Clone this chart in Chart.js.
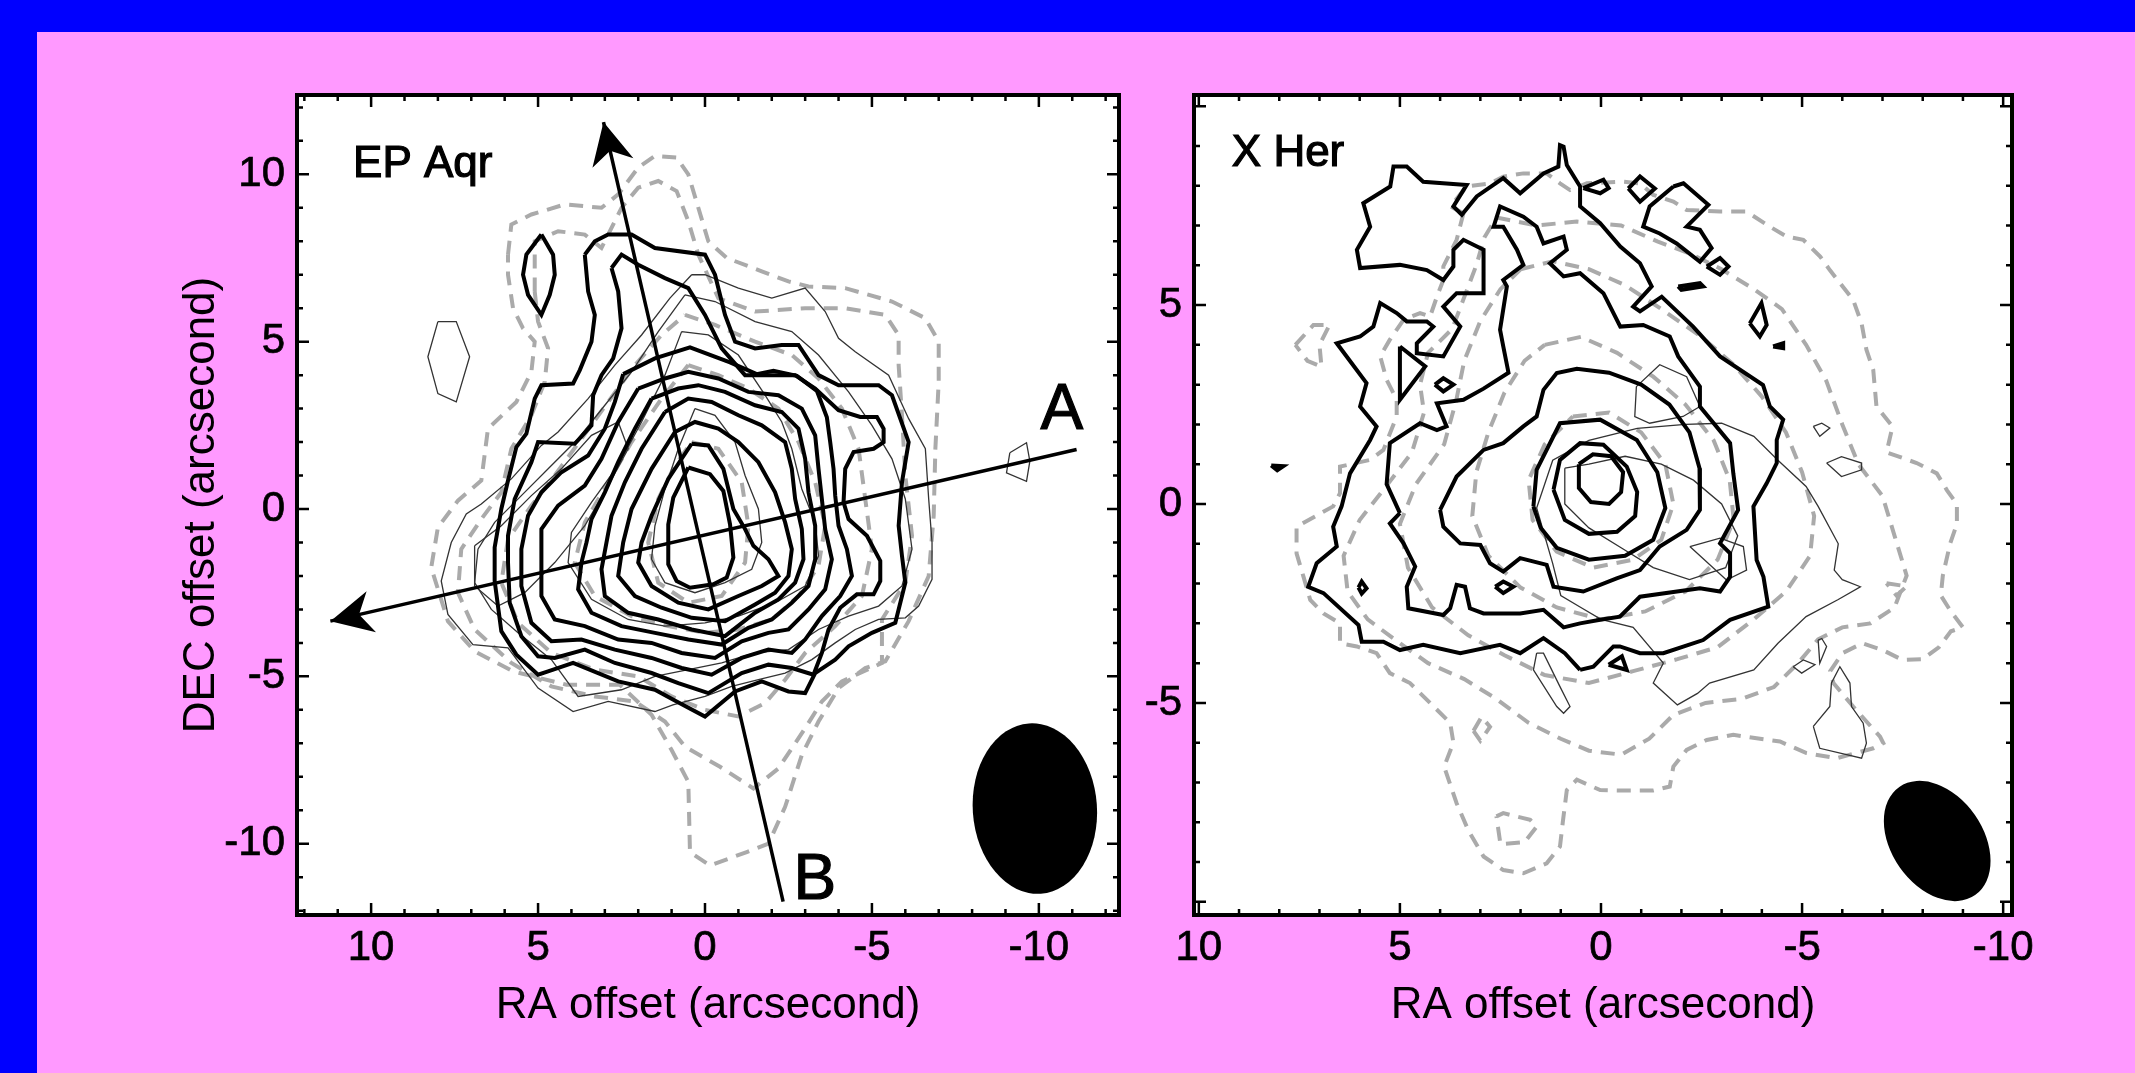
<!DOCTYPE html>
<html>
<head>
<meta charset="utf-8">
<script src="https://cdn.jsdelivr.net/npm/chart.js@4.4.0/dist/chart.umd.min.js"></script>
<style>
  html, body { margin: 0; padding: 0; }
  body { width: 2135px; height: 1073px; background: #ff99ff; position: relative; overflow: hidden; }
  #topbar { position: absolute; left: 0; top: 0; width: 2135px; height: 32px; background: #0000ff; }
  #leftbar { position: absolute; left: 0; top: 0; width: 37px; height: 1073px; background: #0000ff; }
  canvas { position: absolute; top: 0; }
  #epAqr { left: 0; }
  #xHer { left: 1120px; }
</style>
</head>
<body>
<div id="topbar"></div>
<div id="leftbar"></div>
<canvas id="epAqr" width="1165" height="1073"></canvas>
<canvas id="xHer" width="1015" height="1073"></canvas>
<script>
// tick labels (arcsec)
const epAqrXTicks = [-10, -5, 0, 5, 10];
const epAqrYTicks = [-10, -5, 0, 5, 10];
const xHerXTicks = [-10, -5, 0, 5, 10];
const xHerYTicks = [-5, 0, 5];

// ---- EP Aqr contours, [RA offset, DEC offset] in arcsec ----
const epAqrThick = [
  [[3.6,7.6],[3.3,8.0],[2.9,8.2],[2.2,8.2],[1.5,7.8],[0.0,7.6],[-0.3,7.0],[-0.6,5.8],[-0.9,5.0],[-1.5,4.8],[-2.3,4.9],[-2.8,4.9],[-3.4,4.0],[-4.0,3.7],[-5.2,3.7],[-5.6,3.4],[-6.1,2.0],[-5.9,0.8],[-5.8,-0.5],[-5.9,-1.4],[-6.0,-2.2],[-5.7,-3.4],[-5.0,-3.7],[-4.3,-4.1],[-3.9,-4.5],[-3.3,-4.9],[-3.0,-5.5],[-2.5,-5.45],[-1.7,-5.15],[-0.9,-5.45],[0.0,-6.2],[0.85,-5.75],[1.5,-5.4],[2.6,-5.15],[3.95,-4.6],[4.7,-4.85],[5.0,-4.95],[5.65,-4.35],[6.1,-3.65],[6.3,-2.15],[6.3,-1.15],[6.1,0.0],[5.9,0.85],[5.65,1.85],[5.35,2.25],[5.1,3.3],[4.9,3.7],[3.95,3.75],[3.75,4.15],[3.4,5.0],[3.3,5.8],[3.5,6.5],[3.6,7.6]],
  [[2.8,7.2],[2.5,7.6],[2.0,7.3],[1.2,6.9],[0.5,6.6],[0.0,5.8],[-0.5,4.8],[-1.2,4.0],[-2.0,4.0],[-2.7,4.0],[-3.3,3.6],[-4.0,2.95],[-4.65,2.75],[-5.15,2.75],[-5.35,2.4],[-5.35,2.0],[-5.05,1.8],[-4.45,1.7],[-4.2,1.2],[-4.15,0.2],[-4.3,-0.3],[-4.85,-0.8],[-5.25,-1.55],[-5.25,-2.15],[-5.05,-2.55],[-4.55,-2.55],[-4.05,-2.95],[-3.7,-3.6],[-3.5,-4.3],[-3.25,-4.95],[-2.6,-4.75],[-1.9,-4.65],[-1.1,-4.9],[-0.1,-5.5],[0.8,-5.2],[1.6,-4.9],[2.7,-4.6],[3.6,-4.2],[4.5,-4.45],[5.0,-4.4],[5.5,-3.8],[5.85,-2.8],[5.9,-1.6],[5.9,-0.8],[5.7,0.3],[5.2,1.4],[5.0,2.0],[3.9,1.95],[3.4,2.5],[3.35,3.4],[3.1,4.0],[2.75,4.5],[2.5,5.4],[2.6,6.5],[2.8,7.2]],
  [[2.45,4.03],[1.5,4.5],[0.45,4.83],[-0.75,4.38],[-1.55,4.03],[-2.05,4.13],[-2.75,3.98],[-3.35,3.53],[-3.65,2.74],[-3.75,2.0],[-3.85,1.2],[-3.9,0.4],[-4.0,-0.5],[-4.25,-1.2],[-4.4,-2.0],[-4.05,-2.6],[-3.5,-3.2],[-3.0,-3.9],[-2.6,-4.3],[-1.9,-4.2],[-1.1,-4.45],[-0.2,-4.95],[0.7,-4.75],[1.6,-4.45],[2.7,-4.2],[3.7,-3.9],[4.6,-3.95],[5.2,-3.4],[5.5,-2.3],[5.5,-1.2],[5.3,-0.2],[4.9,0.5],[4.3,1.1],[3.5,1.6],[3.0,2.4],[2.7,3.2],[2.45,4.03]],
  [[2.0,3.6],[1.2,3.9],[0.5,4.1],[-0.4,3.9],[-1.3,3.5],[-2.2,3.4],[-2.9,3.0],[-3.3,2.2],[-3.4,1.2],[-3.5,0.3],[-3.6,-0.6],[-3.8,-1.5],[-3.6,-2.4],[-3.1,-3.0],[-2.5,-3.6],[-1.9,-3.7],[-1.1,-3.95],[-0.3,-4.45],[0.7,-4.3],[1.6,-4.0],[2.6,-3.9],[3.6,-3.5],[4.5,-3.3],[4.9,-2.6],[4.9,-1.5],[4.9,-0.6],[4.4,0.1],[3.6,0.7],[3.1,1.5],[2.6,2.6],[2.0,3.6]],
  [[1.6,3.3],[0.8,3.6],[0.2,3.7],[-0.6,3.5],[-1.5,3.1],[-2.3,2.9],[-2.8,2.4],[-3.0,1.5],[-3.1,0.5],[-3.3,-0.5],[-3.3,-1.5],[-3.1,-2.3],[-2.6,-2.8],[-2.0,-3.3],[-1.3,-3.55],[-0.5,-4.05],[0.5,-3.9],[1.5,-3.7],[2.5,-3.5],[3.4,-3.1],[3.8,-2.4],[3.7,-1.6],[3.55,-1.0],[3.4,-0.3],[3.0,0.5],[2.6,1.4],[2.1,2.4],[1.6,3.3]],
  [[1.2,2.9],[0.5,3.3],[-0.2,3.2],[-1.0,2.8],[-1.7,2.5],[-2.4,2.0],[-2.6,1.2],[-2.7,0.3],[-2.9,-0.6],[-2.95,-1.5],[-2.7,-2.2],[-2.2,-2.7],[-1.5,-3.1],[-0.6,-3.8],[0.4,-3.6],[1.4,-3.3],[2.3,-3.1],[3.0,-2.6],[3.1,-1.8],[2.95,-1.0],[2.8,-0.2],[2.4,0.8],[1.9,1.8],[1.2,2.9]],
  [[0.9,2.3],[0.3,2.6],[-0.4,2.4],[-1.0,2.0],[-1.6,1.4],[-2.1,0.5],[-2.4,-0.4],[-2.6,-1.2],[-2.5,-2.0],[-2.1,-2.5],[-1.5,-2.85],[-0.6,-3.35],[0.4,-3.25],[1.3,-2.95],[2.1,-2.6],[2.6,-2.0],[2.45,-1.0],[2.2,0.0],[1.6,1.2],[0.9,2.3]],
  [[0.4,1.95],[-0.1,1.9],[-0.55,1.2],[-0.85,0.0],[-1.2,-0.6],[-1.45,-1.1],[-1.9,-1.5],[-2.2,-2.0],[-1.7,-2.3],[-1.0,-2.6],[-0.1,-3.0],[0.8,-2.8],[1.6,-2.3],[2.0,-1.6],[1.9,-1.0],[1.6,-0.2],[1.1,0.9],[0.4,1.95]],
  [[0.5,1.24],[-0.15,1.04],[-0.55,0.54],[-0.75,-0.46],[-0.85,-1.45],[-0.65,-2.05],[-0.25,-2.25],[0.45,-2.35],[0.85,-2.15],[1.1,-1.65],[1.1,-0.46],[0.95,0.34],[0.5,1.24]],
  [[4.9,8.2],[4.55,7.6],[4.5,7.0],[4.65,6.4],[4.9,5.8],[5.3,6.4],[5.45,7.0],[5.35,7.6],[4.9,8.2]]
];

const epAqrThin = [
  [[0.4,7.0],[0.0,7.0],[-1.0,6.6],[-2.0,6.3],[-3.0,6.6],[-3.6,5.9],[-4.0,5.1],[-4.5,4.7],[-5.5,4.0],[-6.1,2.7],[-6.6,1.8],[-6.7,0.3],[-6.8,-1.0],[-6.8,-2.1],[-6.4,-2.9],[-6.0,-3.25],[-5.2,-3.3],[-4.5,-3.6],[-3.9,-4.0],[-3.2,-4.5],[-2.4,-4.9],[-1.6,-5.1],[-0.8,-5.3],[0.0,-5.6],[0.96,-5.85],[1.5,-6.05],[2.9,-5.75],[3.95,-6.05],[5.0,-5.35],[5.9,-4.15],[6.95,-4.05],[7.7,-3.15],[7.9,-2.15],[7.6,-1.0],[7.15,-0.15],[6.7,0.15],[5.8,0.9],[4.9,1.9],[4.4,2.3],[3.5,3.3],[2.7,4.3],[1.9,5.2],[1.05,6.3],[0.4,7.0]],
  [[0.6,6.4],[-0.3,6.2],[-1.5,5.6],[-2.6,5.3],[-3.4,4.6],[-4.3,3.5],[-5.0,2.5],[-5.6,1.5],[-6.0,0.3],[-6.2,-1.2],[-5.9,-2.3],[-5.2,-2.9],[-4.3,-3.2],[-3.4,-3.6],[-2.5,-4.2],[-1.5,-4.3],[-0.5,-4.6],[0.5,-4.8],[1.5,-5.0],[2.5,-5.4],[3.8,-5.6],[4.6,-4.5],[5.6,-3.7],[6.4,-3.0],[6.9,-2.2],[6.8,-1.2],[6.3,-0.4],[5.5,0.4],[4.6,1.3],[3.8,2.1],[3.0,3.1],[2.2,4.1],[1.4,5.3],[0.6,6.4]],
  [[0.7,5.3],[-0.1,5.2],[-1.0,4.6],[-1.8,3.4],[-2.3,2.6],[-2.6,1.8],[-2.9,0.6],[-3.3,-0.4],[-3.4,-1.4],[-3.0,-2.3],[-2.1,-2.8],[-1.0,-3.2],[0.0,-3.4],[1.2,-3.5],[2.3,-3.3],[3.4,-2.7],[4.1,-1.6],[4.0,-0.7],[3.4,0.2],[2.6,1.3],[1.9,2.6],[1.2,4.0],[0.7,5.3]],
  [[0.3,3.0],[-0.3,2.8],[-0.9,2.0],[-1.2,1.0],[-1.6,0.0],[-1.7,-1.0],[-1.4,-1.8],[-0.6,-2.2],[0.3,-2.5],[1.2,-2.2],[1.6,-1.5],[1.5,-0.5],[1.2,0.6],[0.8,1.8],[0.3,3.0]],
  [[6.9,-1.1],[6.1,-0.5],[5.2,0.4],[4.3,1.2],[3.4,2.2],[2.6,2.6],[2.3,1.8],[2.9,0.7],[3.6,-0.5],[4.5,-1.6],[5.4,-2.5],[6.2,-2.9],[6.9,-2.3],[6.9,-1.1]],
  [[8.0,5.6],[7.45,5.6],[7.05,4.55],[7.45,3.2],[8.0,3.45],[8.3,4.55],[8.0,5.6]],
  [[-9.13,1.68],[-9.63,1.98],[-9.73,1.43],[-9.63,0.83],[-9.03,1.08],[-9.13,1.68]]
];

const epAqrDashed = [
  [[5.9,7.6],[5.8,8.5],[5.2,8.8],[4.2,9.1],[3.1,9.0],[2.6,9.4],[2.0,10.2],[1.5,10.55],[0.85,10.5],[0.5,10.0],[0.2,9.0],[-0.1,8.0],[-0.65,7.5],[-1.7,7.1],[-2.5,6.8],[-3.1,6.65],[-4.2,6.6],[-5.6,6.2],[-6.6,5.7],[-7.0,5.0],[-7.0,3.8],[-6.9,1.8],[-6.85,-0.2],[-6.7,-2.0],[-6.1,-3.35],[-5.4,-4.55],[-4.8,-4.75],[-4.0,-5.35],[-3.4,-6.35],[-2.9,-7.35],[-2.4,-8.9],[-1.9,-10.0],[-1.25,-10.25],[-0.15,-10.65],[0.45,-10.25],[0.5,-8.15],[1.0,-7.2],[1.6,-6.15],[2.55,-5.25],[4.15,-5.25],[5.75,-4.85],[6.9,-4.25],[7.7,-3.35],[8.2,-1.75],[8.0,-0.55],[7.4,0.25],[6.7,0.85],[6.5,2.4],[5.65,3.2],[5.2,4.1],[5.1,5.0],[5.45,5.4],[5.75,6.0],[5.9,7.0],[5.9,7.6]],
  [[5.1,6.5],[5.1,8.0],[4.4,8.3],[3.6,8.2],[3.1,7.8],[2.5,9.0],[2.0,9.6],[1.4,9.8],[0.85,9.5],[0.5,8.6],[0.2,7.6],[-0.4,6.3],[-1.5,5.9],[-3.0,6.0],[-4.2,6.0],[-5.4,5.8],[-5.8,5.2],[-5.8,4.3],[-5.9,2.8],[-6.0,1.0],[-6.2,-0.8],[-6.0,-2.2],[-5.3,-3.3],[-5.3,-4.6],[-4.1,-5.15],[-3.5,-5.75],[-3.0,-6.55],[-2.2,-7.75],[-1.45,-8.35],[-0.45,-7.7],[0.6,-7.1],[1.2,-6.35],[2.1,-5.75],[3.3,-5.6],[4.6,-5.3],[5.8,-4.6],[6.9,-3.6],[7.4,-2.5],[7.3,-1.2],[6.7,-0.3],[6.1,0.5],[5.8,1.8],[5.2,2.8],[4.8,3.8],[4.7,4.8],[5.0,5.6],[5.1,6.5]],
  [[0.6,5.8],[-0.3,5.5],[-1.5,5.0],[-2.6,4.6],[-3.4,3.9],[-4.1,3.0],[-4.6,1.8],[-4.8,0.3],[-5.0,-1.2],[-4.7,-2.6],[-3.9,-3.5],[-3.0,-4.3],[-2.4,-5.1],[-1.8,-5.8],[-1.0,-6.2],[0.0,-6.0],[1.0,-5.6],[2.0,-5.0],[3.3,-4.8],[4.6,-4.3],[5.6,-3.4],[6.1,-2.2],[5.9,-0.9],[5.2,0.1],[4.5,1.0],[3.7,2.1],[2.9,3.2],[2.1,4.3],[1.3,5.2],[0.6,5.8]],
  [[0.5,4.3],[-0.4,4.0],[-1.3,3.6],[-2.2,3.0],[-2.8,2.0],[-3.3,0.8],[-3.6,-0.5],[-3.4,-1.7],[-2.8,-2.6],[-2.0,-3.3],[-1.0,-3.6],[0.0,-3.7],[1.1,-3.5],[2.2,-3.2],[3.3,-2.6],[3.9,-1.6],[3.6,-0.4],[2.9,0.8],[2.2,2.0],[1.3,3.3],[0.5,4.3]],
  [[0.4,2.0],[-0.4,1.8],[-1.1,0.8],[-1.3,-0.5],[-1.2,-1.6],[-0.5,-2.6],[0.5,-2.8],[1.4,-2.2],[1.7,-1.0],[1.4,0.3],[0.9,1.3],[0.4,2.0]]
];

// position-velocity cut directions, start -> arrow tip
const epAqrCuts = [
  [[-2.34,-11.73],[3.04,11.56]],
  [[-11.13,1.78],[11.22,-3.35]]
];

// ---- X Her contours ----
const xHerThick = [
  [[0.52,-4.17],[0.9,-3.75],[1.43,-3.37],[2.01,-3.75],[2.51,-3.54],[3.5,-3.75],[4.42,-3.54],[5.0,-3.67],[5.41,-3.46],[5.95,-3.46],[6.03,-3.04],[6.9,-2.24],[7.28,-2.08],[7.07,-1.49],[6.57,-1.07],[6.66,-0.57],[6.45,-0.06],[6.24,0.77],[5.74,1.61],[5.58,1.95],[5.99,2.45],[5.83,3.04],[6.57,4.04],[5.99,4.21],[5.66,4.46],[5.49,5.05],[5.08,4.8],[4.83,4.59],[4.33,4.59],[4.17,4.46],[4.58,4.04],[4.58,3.79],[3.92,3.71],[3.5,4.46],[3.92,4.96],[3.59,5.3],[2.92,5.3],[2.92,6.39],[3.42,6.64],[3.67,6.39],[3.67,5.97],[3.92,5.63],[4.33,5.88],[5.0,6.01],[5.99,5.93],[6.07,6.39],[5.74,6.97],[5.91,7.56],[5.24,7.98],[5.16,8.48],[4.83,8.48],[4.42,8.1],[3.34,8.02],[3.67,7.48],[3.46,7.27],[3.09,7.73],[2.43,8.19],[2.01,7.81],[1.43,8.31],[1.06,8.48],[1.02,9.02],[0.93,8.98],[0.85,8.52],[0.52,7.98],[0.52,7.48],[0.02,7.06],[-0.48,6.47],[-0.97,6.05],[-1.26,5.47],[-0.8,4.96],[-0.97,4.84],[-1.51,5.21],[-2.29,4.46],[-2.96,3.71],[-4.03,2.99],[-4.2,2.45],[-4.53,2.12],[-4.37,1.61],[-4.37,1.03],[-4.12,0.52],[-3.79,-0.06],[-3.87,-1.41],[-4.04,-1.83],[-4.16,-2.58],[-3.21,-2.91],[-2.54,-3.42],[-1.55,-3.75],[-0.97,-3.75],[-0.47,-3.58],[-0.31,-3.58],[0.19,-4.09],[0.52,-4.17]],
  [[5.0,-0.23],[5.33,0.5],[5.25,1.53],[4.5,2.03],[4.08,1.86],[3.84,1.95],[4.08,2.53],[3.42,2.62],[2.92,2.9],[2.3,3.3],[2.43,3.96],[2.51,4.38],[2.34,5.47],[2.43,5.63],[1.93,6.01],[2.09,6.39],[2.43,6.97],[2.67,6.97],[2.51,7.48],[1.93,7.22],[1.6,6.97],[1.43,6.55],[0.93,6.72],[0.85,6.39],[1.27,6.05],[0.93,5.72],[0.52,5.8],[-0.06,5.3],[-0.48,4.46],[-1.05,4.5],[-1.71,4.21],[-1.92,3.71],[-2.46,2.95],[-2.46,2.45],[-3.21,1.53],[-3.29,0.77],[-3.41,-0.15],[-2.96,-0.99],[-3.21,-1.24],[-3.21,-1.83],[-2.96,-2.2],[-2.46,-2.12],[-0.97,-2.33],[-0.47,-2.83],[0.02,-2.91],[0.52,-3.0],[0.93,-3.1],[1.43,-2.66],[2.01,-2.75],[2.92,-2.75],[3.26,-2.62],[3.38,-2.08],[3.59,-2.03],[3.75,-2.62],[3.92,-2.79],[4.79,-2.62],[4.83,-2.08],[4.62,-1.57],[4.91,-0.99],[5.25,-0.49],[5.0,-0.23]],
  [[4.0,-0.15],[3.59,0.69],[2.92,1.36],[2.43,1.53],[1.93,1.95],[1.6,2.2],[1.43,2.87],[1.1,3.29],[0.6,3.4],[-0.2,3.3],[-1.0,3.0],[-1.7,2.5],[-2.2,1.8],[-2.45,0.9],[-2.46,-0.15],[-2.13,-0.65],[-1.46,-1.07],[-0.97,-1.66],[-0.39,-1.87],[0.44,-2.2],[1.18,-2.08],[1.35,-1.53],[2.01,-1.36],[2.43,-1.7],[2.76,-1.49],[3.0,-1.03],[3.5,-0.99],[3.92,-0.57],[4.0,-0.15]],
  [[1.68,-0.06],[1.6,0.86],[1.02,2.03],[0.02,2.12],[-0.89,1.61],[-1.4,0.8],[-1.6,-0.1],[-1.3,-0.9],[-0.6,-1.3],[0.3,-1.4],[1.1,-1.1],[1.5,-0.6],[1.68,-0.06]],
  [[1.18,0.36],[1.02,1.11],[0.52,1.53],[-0.06,1.49],[-0.64,0.94],[-0.9,0.3],[-0.85,-0.3],[-0.4,-0.7],[0.3,-0.75],[0.9,-0.4],[1.18,0.36]],
  [[0.55,1.0],[0.2,1.25],[-0.25,1.2],[-0.55,0.8],[-0.5,0.3],[-0.2,0.0],[0.25,0.05],[0.55,0.4],[0.55,1.0]],
  [[-1.8,7.98],[-2.05,8.06],[-2.67,7.52],[-2.13,6.97],[-2.46,6.89],[-2.75,6.43],[-2.46,6.09],[-1.88,6.55],[-1.46,6.8],[-1.05,6.97],[-1.21,7.48],[-1.8,7.98]],
  [[-0.68,7.93],[-0.97,8.23],[-1.34,7.93],[-0.97,7.6],[-0.68,7.93]],
  [[-2.63,5.97],[-2.96,6.18],[-3.17,5.97],[-2.96,5.76],[-2.63,5.97]],
  [[-1.92,5.47],[-2.46,5.55],[-2.54,5.47],[-2.0,5.38],[-1.92,5.47]],
  [[-3.7,4.54],[-3.99,5.05],[-4.12,4.5],[-3.95,4.21],[-3.7,4.54]],
  [[0.44,7.94],[-0.06,8.15],[-0.19,7.94],[0.02,7.81],[0.44,7.94]],
  [[5.0,3.96],[4.37,3.46],[5.0,2.62],[5.0,3.96]],
  [[4.13,3.0],[3.92,3.16],[3.67,3.0],[3.92,2.83],[4.13,3.0]],
  [[6.03,-2.1],[5.95,-1.95],[5.83,-2.12],[5.95,-2.25],[6.03,-2.1]],
  [[2.63,-2.08],[2.43,-1.95],[2.18,-2.08],[2.43,-2.24],[2.63,-2.08]],
  [[-0.19,-4.04],[-0.52,-3.83],[-0.64,-4.17],[-0.19,-4.04]],
  [[8.2,0.97],[7.9,0.95],[8.05,0.85],[8.2,0.97]],
  [[-4.28,3.96],[-4.53,4.04],[-4.53,3.92],[-4.28,3.96]]
];

const xHerThin = [
  [[1.2,-1.5],[1.6,-0.1],[1.2,1.1],[0.3,1.6],[-0.9,1.9],[-2.1,2.0],[-3.0,2.03],[-3.8,1.7],[-4.4,1.1],[-5.1,0.44],[-5.4,-0.06],[-5.9,-1.0],[-5.8,-1.66],[-6.0,-1.9],[-6.45,-2.08],[-5.9,-2.4],[-5.1,-2.83],[-4.4,-3.5],[-3.8,-4.17],[-2.7,-4.5],[-2.4,-4.76],[-1.9,-5.05],[-1.3,-4.5],[-1.55,-4.0],[-0.8,-3.1],[0.0,-2.9],[0.5,-2.6],[1.0,-2.3],[1.2,-1.5]],
  [[-0.88,2.95],[-1.46,3.5],[-2.13,3.2],[-2.46,2.45],[-2.04,2.2],[-1.21,2.03],[-0.84,2.2],[-0.88,2.95]],
  [[0.9,0.9],[0.3,1.0],[-0.6,1.2],[-1.5,1.0],[-2.3,0.6],[-3.0,0.0],[-3.4,-0.8],[-3.1,-1.6],[-2.2,-1.9],[-1.3,-1.6],[-0.5,-1.1],[0.3,-0.6],[0.9,0.0],[0.9,0.9]],
  [[-2.21,-1.07],[-2.96,-0.86],[-3.54,-1.07],[-3.62,-1.66],[-3.12,-1.91],[-2.21,-1.07]],
  [[-5.28,-5.59],[-5.69,-5.09],[-5.73,-4.5],[-5.94,-4.09],[-6.19,-4.5],[-6.23,-5.09],[-6.52,-5.51],[-6.6,-6.01],[-6.48,-6.39],[-5.44,-6.14],[-5.28,-5.59]],
  [[1.6,-3.75],[1.68,-4.17],[1.1,-5.09],[0.93,-5.26],[0.77,-5.09],[1.02,-4.59],[1.43,-3.75],[1.6,-3.75]],
  [[-5.61,1.03],[-5.98,1.19],[-6.48,1.03],[-6.48,0.86],[-5.98,0.69],[-5.61,1.03]],
  [[-5.28,1.95],[-5.49,2.03],[-5.69,1.91],[-5.44,1.7],[-5.28,1.95]],
  [[-5.4,-3.42],[-5.49,-3.38],[-5.61,-3.58],[-5.44,-4.0],[-5.4,-3.42]],
  [[-4.78,-4.09],[-5.03,-3.92],[-5.32,-4.04],[-4.99,-4.25],[-4.78,-4.09]]
];

const xHerDashed = [
  [[3.42,7.31],[3.75,7.48],[3.34,7.98],[2.76,8.06],[2.43,8.23],[1.93,8.31],[1.35,8.31],[1.02,8.06],[0.77,7.89],[0.35,8.06],[-0.56,8.1],[-0.97,8.06],[-1.3,7.77],[-1.8,7.6],[-2.13,7.39],[-2.96,7.35],[-3.62,7.35],[-4.2,6.97],[-4.62,6.72],[-5.03,6.64],[-5.45,6.22],[-5.69,5.88],[-6.27,5.13],[-6.48,4.54],[-6.6,3.88],[-6.77,3.37],[-6.85,2.45],[-7.25,1.95],[-7.1,1.3],[-7.85,1.03],[-8.35,0.77],[-8.6,0.35],[-8.85,0.0],[-8.85,-0.5],[-8.68,-1.0],[-8.5,-1.8],[-8.45,-2.3],[-8.7,-2.7],[-9.0,-3.1],[-8.7,-3.2],[-8.4,-3.6],[-8.0,-3.9],[-7.5,-3.92],[-7.0,-3.67],[-6.5,-3.5],[-6.0,-3.75],[-5.7,-4.2],[-5.78,-4.5],[-6.27,-5.09],[-6.94,-5.85],[-7.02,-6.01],[-6.77,-6.14],[-5.86,-6.39],[-5.11,-6.26],[-4.45,-5.97],[-3.87,-5.89],[-3.29,-5.8],[-2.63,-5.93],[-2.13,-6.18],[-1.8,-6.6],[-1.71,-7.1],[-1.3,-7.2],[-0.47,-7.2],[0.02,-7.19],[0.6,-6.93],[0.85,-7.19],[0.95,-8.0],[1.02,-8.61],[1.35,-9.03],[1.93,-9.28],[2.43,-9.2],[2.92,-8.86],[3.3,-8.2],[3.59,-7.52],[3.9,-6.6],[3.67,-6.0],[3.75,-5.5],[4.25,-5.0],[4.75,-4.5],[5.25,-4.25],[5.58,-3.75],[6.07,-3.58],[6.49,-3.5],[6.49,-3.0],[6.9,-2.75],[7.23,-2.41],[7.4,-1.82],[7.57,-1.24],[7.57,-0.57],[6.66,-0.06],[6.49,0.27],[6.49,0.94],[5.74,1.11],[5.41,1.36],[5.08,2.2],[5.08,2.62],[5.33,3.12],[5.49,3.71],[5.25,4.13],[4.91,4.63],[4.5,4.8],[4.25,4.71],[4.08,5.21],[3.92,5.63],[3.92,5.97],[3.59,6.64],[3.42,7.31]],
  [[2.6,7.2],[1.6,7.0],[0.6,7.1],[-0.5,7.0],[-1.4,6.6],[-2.2,6.3],[-3.0,5.9],[-3.8,5.4],[-4.5,4.9],[-5.1,4.0],[-5.6,3.1],[-6.0,2.0],[-6.4,1.0],[-7.0,0.2],[-7.3,-0.8],[-7.6,-1.8],[-7.3,-2.6],[-6.7,-3.0],[-6.0,-3.1],[-5.4,-3.4],[-4.9,-4.0],[-4.3,-4.6],[-3.5,-4.9],[-2.6,-5.0],[-1.8,-5.3],[-1.2,-5.9],[-0.5,-6.3],[0.3,-6.2],[1.0,-5.9],[1.8,-5.5],[2.6,-4.9],[3.4,-4.4],[4.3,-4.0],[5.0,-3.5],[5.8,-2.9],[6.3,-2.2],[6.4,-1.3],[6.0,-0.4],[5.3,0.5],[4.7,1.3],[4.4,2.3],[4.5,3.0],[4.3,3.8],[3.7,4.4],[3.4,5.2],[3.1,6.0],[2.9,6.7],[2.6,7.2]],
  [[2.0,5.9],[1.2,6.1],[0.3,5.9],[-0.6,5.5],[-1.5,4.9],[-2.5,4.2],[-3.3,3.5],[-4.0,2.7],[-4.6,1.8],[-5.0,0.8],[-5.3,-0.3],[-5.2,-1.3],[-4.6,-2.2],[-3.8,-2.9],[-2.9,-3.6],[-1.9,-3.9],[-0.8,-4.2],[0.3,-4.5],[1.4,-4.3],[2.4,-3.8],[3.3,-3.3],[4.2,-2.6],[4.8,-1.6],[5.0,-0.5],[4.6,0.5],[3.9,1.5],[3.6,2.6],[3.4,3.6],[3.0,4.6],[2.5,5.4],[2.0,5.9]],
  [[1.4,4.0],[0.5,4.2],[-0.4,3.8],[-1.3,3.2],[-2.1,2.5],[-2.8,1.6],[-3.2,0.6],[-3.3,-0.4],[-2.9,-1.4],[-2.1,-2.2],[-1.1,-2.7],[0.0,-2.9],[1.1,-2.6],[2.0,-2.1],[2.8,-1.3],[3.2,-0.3],[3.1,0.8],[2.8,1.8],[2.4,2.8],[1.9,3.6],[1.4,4.0]],
  [[0.7,2.2],[-0.2,2.3],[-1.0,1.8],[-1.6,1.0],[-1.8,0.0],[-1.5,-0.9],[-0.8,-1.4],[0.2,-1.6],[1.1,-1.2],[1.7,-0.4],[1.8,0.6],[1.4,1.5],[0.7,2.2]],
  [[7.6,4.0],[7.15,4.5],[6.75,4.5],[7.0,4.0],[6.95,3.45],[7.3,3.6],[7.6,4.0]],
  [[3.17,-5.7],[2.97,-5.35],[2.76,-5.6],[3.0,-5.95],[3.17,-5.7]],
  [[2.6,-7.85],[2.43,-7.77],[1.76,-7.94],[1.6,-8.11],[1.9,-8.5],[2.5,-8.55],[2.6,-7.85]],
  [[-7.1,-1.99],[-7.6,-2.07],[-7.35,-2.3],[-7.1,-1.99]]
];

const FONT = '"Liberation Sans", Arial, Helvetica, sans-serif';

const thickStyle = { showLine: true, pointRadius: 0, borderColor: '#000', borderWidth: 4, order: 1 };
const thinStyle = { showLine: true, pointRadius: 0, borderColor: '#333', borderWidth: 1.3, order: 2 };
const dashStyle = { showLine: true, pointRadius: 0, borderColor: '#aaaaaa', borderWidth: 4, borderDash: [14, 9], order: 3 };
const cutStyle = { showLine: true, pointRadius: 0, borderColor: '#000', borderWidth: 3.5, order: 0 };

function toSets(list, style) {
  return list.map(c => Object.assign({ data: c.map(p => ({ x: p[0], y: p[1] })) }, style));
}

function decor(p) {
  return {
    id: 'decor',
    beforeDraw(chart) {
      const { ctx, chartArea: a } = chart;
      ctx.save();
      ctx.fillStyle = '#fff';
      ctx.fillRect(a.left, a.top, a.right - a.left, a.bottom - a.top);
      ctx.restore();
    },
    afterDatasetsDraw(chart) {
      const { ctx, chartArea: a, scales: { x, y } } = chart;
      const sx = Math.abs(x.getPixelForValue(1) - x.getPixelForValue(0));
      const sy = Math.abs(y.getPixelForValue(1) - y.getPixelForValue(0));
      ctx.save();
      ctx.fillStyle = '#000';
      ctx.strokeStyle = '#000';
      // beam
      const b = p.beam;
      ctx.beginPath();
      ctx.ellipse(x.getPixelForValue(b.x), y.getPixelForValue(b.y), b.minor * sx, b.major * sy, b.tilt * Math.PI / 180, 0, 2 * Math.PI);
      ctx.fill();
      // arrow heads
      (p.cuts || []).forEach(c => {
        const x0 = x.getPixelForValue(c[0][0]), y0 = y.getPixelForValue(c[0][1]);
        const x1 = x.getPixelForValue(c[1][0]), y1 = y.getPixelForValue(c[1][1]);
        const d = Math.hypot(x1 - x0, y1 - y0), ux = (x1 - x0) / d, uy = (y1 - y0) / d;
        const L = 42, W = 21;
        ctx.beginPath();
        ctx.moveTo(x1, y1);
        ctx.lineTo(x1 - ux * L - uy * W, y1 - uy * L + ux * W);
        ctx.lineTo(x1 - ux * L * 0.7, y1 - uy * L * 0.7);
        ctx.lineTo(x1 - ux * L + uy * W, y1 - uy * L - ux * W);
        ctx.closePath();
        ctx.fill();
      });
      // text
      p.labels.forEach(l => {
        ctx.font = l.size + 'px ' + FONT;
        ctx.textAlign = l.align;
        ctx.textBaseline = 'alphabetic';
        ctx.lineWidth = 1.2;
        const tx = x.getPixelForValue(l.x), ty = y.getPixelForValue(l.y);
        ctx.fillText(l.text, tx, ty);
        ctx.strokeText(l.text, tx, ty);
      });
      // inward ticks on all four sides
      ctx.lineWidth = 2.5;
      ctx.beginPath();
      for (let v = Math.ceil(x.min); v <= Math.floor(x.max); v++) {
        const px = x.getPixelForValue(v), len = v % 5 === 0 ? 12 : 6;
        ctx.moveTo(px, a.top); ctx.lineTo(px, a.top + len);
        ctx.moveTo(px, a.bottom); ctx.lineTo(px, a.bottom - len);
      }
      for (let v = Math.ceil(y.min); v <= Math.floor(y.max); v++) {
        const py = y.getPixelForValue(v), len = v % 5 === 0 ? 12 : 6;
        ctx.moveTo(a.left, py); ctx.lineTo(a.left + len, py);
        ctx.moveTo(a.right, py); ctx.lineTo(a.right - len, py);
      }
      ctx.stroke();
      ctx.lineWidth = 4;
      ctx.strokeRect(a.left, a.top, a.right - a.left, a.bottom - a.top);
      ctx.restore();
    }
  };
}

function makePanel(id, p) {
  const sets = [].concat(
    toSets(p.dashed, dashStyle),
    toSets(p.thin, thinStyle),
    toSets(p.thick, thickStyle),
    toSets(p.cuts || [], cutStyle)
  );
  const tickFont = { family: FONT, size: 42 };
  const titleFont = { family: FONT, size: 44 };
  new Chart(document.getElementById(id), {
    type: 'scatter',
    data: { datasets: sets },
    options: {
      responsive: false,
      animation: false,
      events: [],
      layout: { padding: p.padding },
      plugins: { legend: { display: false }, tooltip: { enabled: false } },
      scales: {
        x: {
          type: 'linear', min: p.xRange[0], max: p.xRange[1], reverse: true,
          afterBuildTicks: s => { s.ticks = p.xTicks.map(v => ({ value: v })); },
          afterFit: s => { s.height = p.xAxisHeight; },
          grid: { display: false, drawTicks: false },
          border: { display: false },
          ticks: { color: '#000', textStrokeColor: '#000', textStrokeWidth: 0.7, font: tickFont, padding: 8, maxRotation: 0, autoSkip: false, callback: v => String(v) },
          title: { display: true, text: 'RA offset (arcsecond)', color: '#000', font: titleFont, padding: { top: 0, bottom: 41 } }
        },
        y: {
          type: 'linear', min: p.yRange[0], max: p.yRange[1],
          afterBuildTicks: s => { s.ticks = p.yTicks.map(v => ({ value: v })); },
          afterFit: s => { s.width = p.yAxisWidth; },
          grid: { display: false, drawTicks: false },
          border: { display: false },
          ticks: { color: '#000', textStrokeColor: '#000', textStrokeWidth: 0.7, font: tickFont, padding: 12, autoSkip: false, callback: v => String(v) },
          title: { display: p.yTitle, text: 'DEC offset (arcsecond)', color: '#000', font: titleFont, padding: { top: 175, bottom: 0 } }
        }
      }
    },
    plugins: [decor(p)]
  });
}

makePanel('epAqr', {
  thick: epAqrThick, thin: epAqrThin, dashed: epAqrDashed, cuts: epAqrCuts,
  xRange: [-12.4, 12.22], yRange: [-12.13, 12.37],
  xTicks: epAqrXTicks, yTicks: epAqrYTicks,
  padding: { top: 95, right: 46, bottom: 0, left: 0 },
  xAxisHeight: 158, yAxisWidth: 297, yTitle: true,
  beam: { x: -9.88, y: -8.95, major: 2.55, minor: 1.86, tilt: -4 },
  labels: [
    { text: 'EP Aqr', x: 10.54, y: 9.91, size: 44, align: 'left' },
    { text: 'A', x: -10.69, y: 2.4, size: 64, align: 'center' },
    { text: 'B', x: -3.29, y: -11.65, size: 64, align: 'center' }
  ]
});

makePanel('xHer', {
  thick: xHerThick, thin: xHerThin, dashed: xHerDashed,
  xRange: [-10.22, 10.12], yRange: [-10.33, 10.28],
  xTicks: xHerXTicks, yTicks: xHerYTicks,
  padding: { top: 95, right: 123, bottom: 0, left: 0 },
  xAxisHeight: 158, yAxisWidth: 74, yTitle: false,
  beam: { x: -8.36, y: -8.47, major: 1.66, minor: 1.14, tilt: -35 },
  labels: [
    { text: 'X Her', x: 9.18, y: 8.49, size: 44, align: 'left' }
  ]
});
</script>
</body>
</html>
